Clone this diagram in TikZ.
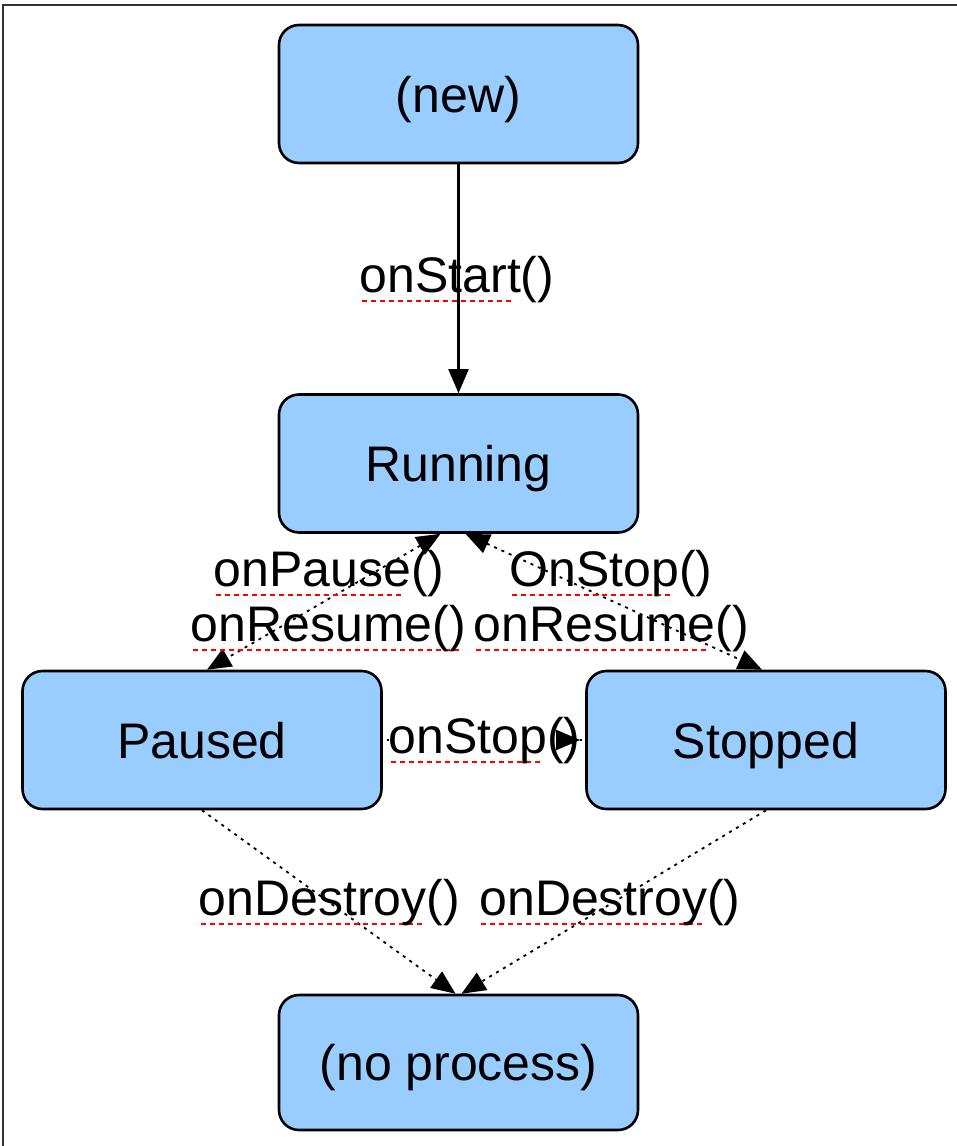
\documentclass[tikz,border=0pt]{standalone}
\usepackage{fontspec}
\setmainfont{Liberation Sans}
\usetikzlibrary{arrows.meta}
\definecolor{boxblue}{HTML}{99CCFF}
\newcommand\sq[1]{\setbox0=\hbox{#1}\rlap{\color{red}\raisebox{-10pt}{\hbox to \wd0{\leaders\hbox to 9pt{\hss\rule{5pt}{2.4pt}\hss}\hfill}}}\box0}
\begin{document}
\begin{tikzpicture}[x=1pt,y=-1pt,
 state/.style={draw=black, line width=2.6pt, fill=boxblue, rounded corners=20pt, minimum width=359pt, minimum height=138pt, inner sep=0pt, text height=38pt, text depth=2pt, font=\fontsize{50}{60}\selectfont},
 lbl/.style={anchor=base, inner sep=0pt, font=\fontsize{50}{60}\selectfont},
 tip/.style={-{Triangle[length=24pt,width=20pt]}},
 tips/.style={{Triangle[length=24pt,width=20pt]}-{Triangle[length=24pt,width=20pt]}},
 dots/.style={line width=1.8pt, dash pattern=on 3pt off 5pt},
]
\useasboundingbox (0,0) rectangle (957,1146);
\fill[white] (0,0) rectangle (957,1146);
\draw[line width=2pt, black!80] (3,1150) -- (3,5) -- (960,5);

\node[state] (new) at (458.5,94) {(new)};
\node[state] (run) at (458.5,463.5) {Running};
\node[state] (pause) at (202,740) {Paused};
\node[state] (stop) at (766,740) {Stopped};
\node[state, minimum height=135pt] (none) at (458.5,1062.5) {(no process)};

\draw[tip, line width=2.2pt] (new) -- (run);
\draw[dots, tips] ([xshift=-18pt]run.south) -- ([xshift=5pt]pause.north);
\draw[dots, tips] ([xshift=7pt]run.south) -- ([xshift=-4pt]stop.north);
\draw[dots, tip] (pause.south) -- ([xshift=-3pt]none.north);
\draw[dots, tip] (stop.south) -- ([xshift=3pt]none.north);
\draw[dots, shorten <=4pt] (pause.east) -- (stop.west);

\node[lbl] (lstart) at (457,292) {\sq{onStart}()};
\node[lbl] (lpause) at (329,586) {\sq{onPause}()};
\node[lbl] (lostop) at (611,586) {\sq{OnStop}()};
\node[lbl] (lres1) at (328.5,641) {\sq{onResume()}};
\node[lbl] (lres2) at (611.5,641) {\sq{onResume}()};
\node[lbl, fill=white] (lstop) at (484.5,753) {\sq{onStop}()};
\node[lbl] (ldes1) at (329.5,915) {\sq{onDestroy}()};
\node[lbl] (ldes2) at (610,915) {\sq{onDestroy}()};

\coordinate (stoptip) at ([xshift=-5pt]stop.west);
\coordinate (stopshaft) at ([xshift=-29pt]stop.west);
\draw[tip, line width=1.8pt] (stopshaft) -- (stoptip);
\end{tikzpicture}
\end{document}
